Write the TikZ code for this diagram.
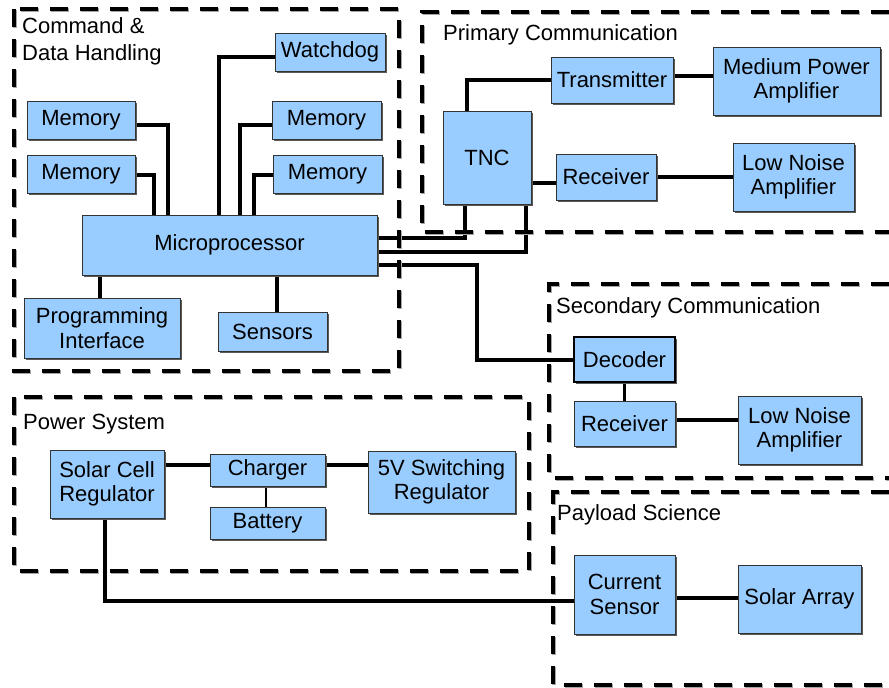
\documentclass[tikz,border=0pt]{standalone}
\usepackage{fontspec}
\setmainfont{Liberation Sans}
\usetikzlibrary{shadows,backgrounds}
\definecolor{boxblue}{HTML}{99CCFF}
\definecolor{boxedge}{HTML}{333333}
\tikzset{
  blk/.style={draw=boxedge, line width=1pt, fill=boxblue, align=center, inner sep=0pt,
    font=\fontsize{22}{24.5}\selectfont,
    drop shadow={shadow xshift=1.5pt, shadow yshift=-1.5pt, fill=black!65, opacity=1}},
  wire/.style={line width=4pt, black},
  thinwire/.style={line width=3pt, black},
  group/.style={line width=3.8pt, dash pattern=on 18pt off 12pt, black,
    preaction={draw=black!35, line width=3.8pt, dash pattern=on 18pt off 12pt, transform canvas={shift={(1.2pt,-1.2pt)}}}},
  glabel/.style={anchor=base west, inner sep=0pt, font=\fontsize{22}{24.5}\selectfont}
}
\begin{document}
\begin{tikzpicture}[x=1pt, y=-1pt]
\useasboundingbox (0,0) rectangle (889,688);

% group frames
\draw[group] (14,9) rectangle (399,371);
\draw[group] (889,12) -- (422,12) -- (422,232) -- (889,232);
\draw[group] (889,284) -- (549,284) -- (549,478) -- (889,478);
\draw[group] (14,397) rectangle (529,571);
\draw[group] (889,492) -- (553,492) -- (553,685) -- (889,685);

% group labels
\node[glabel] (lcdh1) at (22,34) {Command \&};
\node[glabel] (lcdh2) at (22,60) {Data Handling};
\node[glabel] (lprim) at (443,40) {Primary Communication};
\node[glabel] (lsec) at (556,313) {Secondary Communication};
\node[glabel] (lpow) at (23,429) {Power System};
\node[glabel] (lpay) at (557,520) {Payload Science};

% blocks
\node[blk, minimum width=110pt, minimum height=38pt] (watchdog) at (330,52) {Watchdog};
\node[blk, minimum width=108pt, minimum height=38pt] (memL1) at (81,120) {Memory};
\node[blk, minimum width=108pt, minimum height=38pt] (memL2) at (81,174) {Memory};
\node[blk, minimum width=109pt, minimum height=38pt] (memR1) at (326.5,120) {Memory};
\node[blk, minimum width=109pt, minimum height=38pt] (memR2) at (327.5,174) {Memory};
\node[blk, minimum width=295pt, minimum height=60pt] (micro) at (229.5,245) {Microprocessor};
\node[blk, minimum width=156pt, minimum height=60pt] (prog) at (102,328) {Programming\\Interface};
\node[blk, minimum width=109pt, minimum height=39pt] (sensors) at (272.5,331.5) {Sensors};

\node[blk, minimum width=88pt, minimum height=93pt] (tnc) at (487,157.5) {TNC};
\node[blk, minimum width=122pt, minimum height=46pt] (trans) at (612,80) {Transmitter};
\node[blk, minimum width=167pt, minimum height=68pt] (mpa) at (796.5,81) {Medium Power\\Amplifier};
\node[blk, minimum width=100pt, minimum height=46pt] (rxa) at (606,177) {Receiver};
\node[blk, minimum width=121pt, minimum height=68pt] (lnaa) at (793.5,177) {Low Noise\\Amplifier};

\node[blk, draw=black, line width=2.5pt, minimum width=101pt, minimum height=45pt] (decoder) at (624.5,359.5) {Decoder};
\node[blk, minimum width=101pt, minimum height=45pt] (rxb) at (624.5,423.5) {Receiver};
\node[blk, minimum width=123pt, minimum height=68pt] (lnab) at (799.5,430) {Low Noise\\Amplifier};

\node[blk, minimum width=114pt, minimum height=68pt] (solar) at (107,484) {Solar Cell\\Regulator};
\node[blk, minimum width=115pt, minimum height=32pt] (charger) at (267.5,470) {Charger};
\node[blk, minimum width=115pt, minimum height=32pt] (battery) at (267.5,523) {Battery};
\node[blk, minimum width=147pt, minimum height=62pt] (sw) at (441.5,482) {5V Switching\\Regulator};

\node[blk, minimum width=101pt, minimum height=79pt] (cs) at (624.5,594.5) {Current\\Sensor};
\node[blk, minimum width=123pt, minimum height=68pt] (sa) at (799.5,599) {Solar Array};

% connectors
\begin{scope}[on background layer]
\fill[white] (0,0) rectangle (889,688);
\draw[wire] ([yshift=-5pt]memL1.east) -| ([xshift=86pt]micro.north west);
\draw[wire] ([yshift=-1pt]memL2.east) -| ([xshift=72pt]micro.north west);
\draw[wire] ([yshift=-5pt]watchdog.west) -| ([xshift=137pt]micro.north west);
\draw[wire] ([yshift=-5pt]memR1.west) -| ([xshift=158pt]micro.north west);
\draw[wire] ([yshift=-1pt]memR2.west) -| ([xshift=172pt]micro.north west);
\draw[wire] ([xshift=-2pt]prog.north) -- ([xshift=-2pt]prog.north |- micro.south);
\draw[wire] ([xshift=4.5pt]sensors.north) -- ([xshift=4.5pt]sensors.north |- micro.south);
\draw[wire] ([yshift=7pt]micro.east) -| ([xshift=-22pt]tnc.south);
\draw[wire] ([yshift=-7pt]micro.east) -| ([xshift=39pt]tnc.south);
\draw[wire] ([yshift=-20pt]micro.east) -| ([xshift=-96pt]decoder.west) -- (decoder.west);
\draw[wire] ([xshift=-20pt]tnc.north) |- (trans.west);
\draw[wire] ([yshift=4pt]trans.east) -- ([yshift=4pt]trans.east -| mpa.west);
\draw[wire] ([yshift=-6pt]rxa.west) -- ([yshift=-6pt]rxa.west -| tnc.east);
\draw[wire] (rxa.east) -- (rxa.east -| lnaa.west);
\draw[thinwire] (decoder.south) -- (rxb.north);
\draw[wire] ([yshift=4pt]rxb.east) -- ([yshift=4pt]rxb.east -| lnab.west);
\draw[wire] ([yshift=19pt]solar.east) -- ([yshift=19pt]solar.east -| charger.west);
\draw[wire] ([yshift=5pt]charger.east) -- ([yshift=5pt]charger.east -| sw.west);
\draw[thinwire, line width=2.2pt] ([xshift=-1.5pt]charger.south) -- ([xshift=-1.5pt]battery.north);
\draw[wire] ([xshift=-2pt]solar.south) |- ([yshift=-6.5pt]cs.west);
\draw[wire] ([yshift=-3.5pt]cs.east) -- ([yshift=-3.5pt]cs.east -| sa.west);
\end{scope}
\end{tikzpicture}
\end{document}
